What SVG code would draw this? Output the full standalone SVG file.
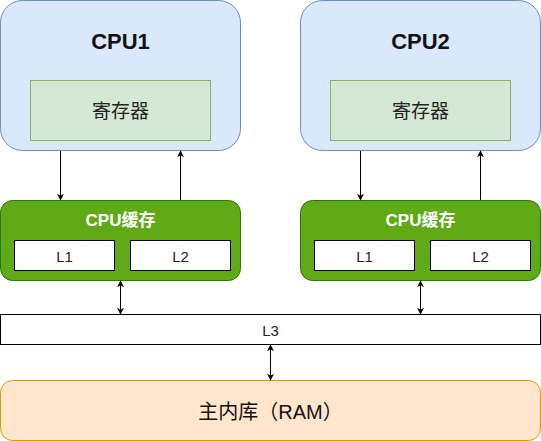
<svg xmlns="http://www.w3.org/2000/svg" width="541" height="441" viewBox="0 0 541 441">
<defs>
<marker id="ah" viewBox="0 0 10 10" refX="9" refY="5" markerWidth="7" markerHeight="7" orient="auto-start-reverse" markerUnits="userSpaceOnUse">
<path d="M0,0 L10,5 L0,10 L3,5 Z" fill="#000"/>
</marker>
</defs>
<style>
.cpu{fill:#dae8fc;stroke:#6c8ebf;stroke-width:1}
.reg{fill:#d5e8d4;stroke:#82b366;stroke-width:1}
.cache{fill:#60a917;stroke:#2d7600;stroke-width:1}
.lv{fill:#fff;stroke:#000;stroke-width:1}
.ram{fill:#ffe6cc;stroke:#d79b00;stroke-width:1}
.t{font-family:"Liberation Sans","Noto Sans CJK SC",sans-serif;text-anchor:middle;dominant-baseline:central}
.title{font-size:22px;font-weight:bold;fill:#111}
.regt{font-size:19px;fill:#222}
.ct{font-size:17px;font-weight:bold;fill:#fff}
.lt{font-size:15px;fill:#222}
.edge{stroke:#000;stroke-width:1;fill:none}
</style>
<g id="cpu1">
<rect class="cpu" x="0.5" y="0.5" width="240" height="150" rx="22"/>
<text class="t title" x="120.5" y="41">CPU1</text>
</g>
<g id="reg1">
<rect class="reg" x="30.5" y="80.5" width="180" height="60"/>
<text class="t regt" x="120.5" y="111">寄存器</text>
</g>
<g id="cpu2">
<rect class="cpu" x="300.5" y="0.5" width="240" height="150" rx="22"/>
<text class="t title" x="420.5" y="41">CPU2</text>
</g>
<g id="reg2">
<rect class="reg" x="330.5" y="80.5" width="180" height="60"/>
<text class="t regt" x="420.5" y="111">寄存器</text>
</g>
<g id="cache1">
<rect class="cache" x="0.5" y="200.5" width="240" height="80" rx="12"/>
<text class="t ct" x="120.5" y="220">CPU缓存</text>
</g>
<g id="l1a">
<rect class="lv" x="14.5" y="240.5" width="100" height="30"/>
<text class="t lt" x="64.5" y="256">L1</text>
</g>
<g id="l2a">
<rect class="lv" x="130.5" y="240.5" width="100" height="30"/>
<text class="t lt" x="180.5" y="256">L2</text>
</g>
<g id="cache2">
<rect class="cache" x="300.5" y="200.5" width="240" height="80" rx="12"/>
<text class="t ct" x="420.5" y="220">CPU缓存</text>
</g>
<g id="l1b">
<rect class="lv" x="314.5" y="240.5" width="100" height="30"/>
<text class="t lt" x="364.5" y="256">L1</text>
</g>
<g id="l2b">
<rect class="lv" x="430.5" y="240.5" width="100" height="30"/>
<text class="t lt" x="480.5" y="256">L2</text>
</g>
<g id="l3">
<rect class="lv" x="0.5" y="314.5" width="540" height="30"/>
<text class="t lt" x="270.5" y="330">L3</text>
</g>
<g id="ram">
<rect class="ram" x="0.5" y="380.5" width="540" height="60" rx="12"/>
<text class="t" style="font-size:20px;fill:#111" x="270.5" y="412">主内库（RAM）</text>
</g>
<g id="edges">
<line class="edge" x1="60.5" y1="151" x2="60.5" y2="200" marker-end="url(#ah)"/>
<line class="edge" x1="180.5" y1="200" x2="180.5" y2="151" marker-end="url(#ah)"/>
<line class="edge" x1="360.5" y1="151" x2="360.5" y2="200" marker-end="url(#ah)"/>
<line class="edge" x1="480.5" y1="200" x2="480.5" y2="151" marker-end="url(#ah)"/>
<line class="edge" x1="120.5" y1="281" x2="120.5" y2="314" marker-start="url(#ah)" marker-end="url(#ah)"/>
<line class="edge" x1="420.5" y1="281" x2="420.5" y2="314" marker-start="url(#ah)" marker-end="url(#ah)"/>
<line class="edge" x1="270.5" y1="345" x2="270.5" y2="380" marker-start="url(#ah)" marker-end="url(#ah)"/>
</g>
</svg>
